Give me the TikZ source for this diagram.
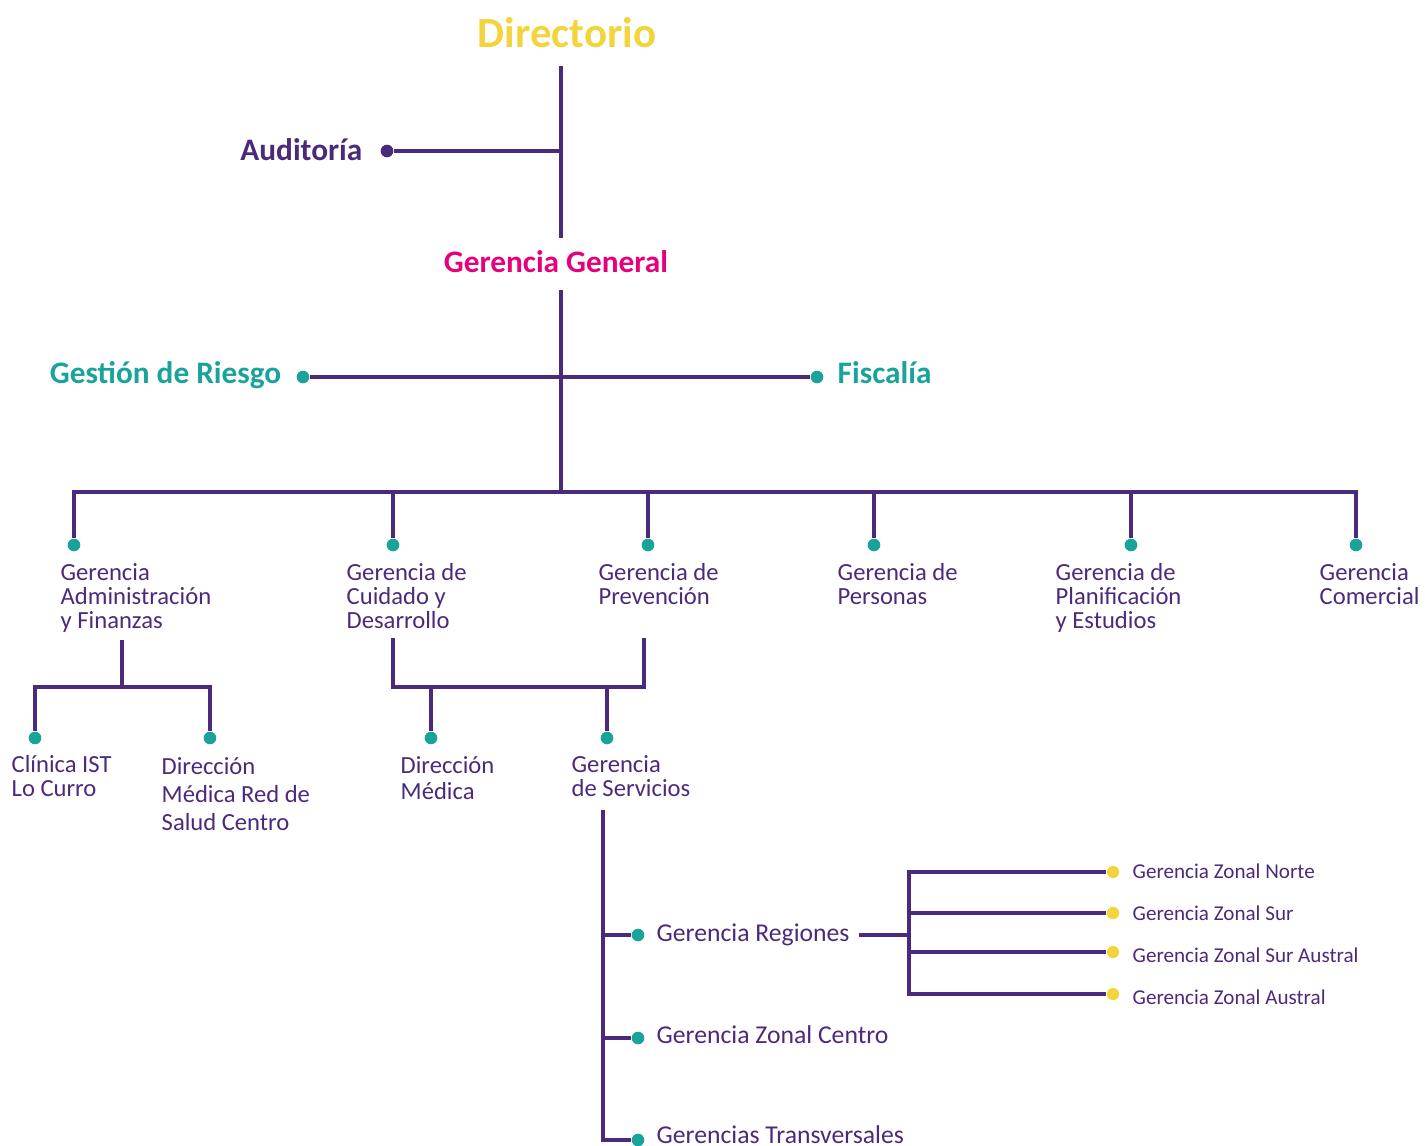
\documentclass[tikz,border=0pt]{standalone}
\usepackage{fontspec}
\setmainfont{Carlito}
\usepackage{tikz}
\definecolor{orgpurple}{HTML}{4B2A7B}
\definecolor{orgteal}{HTML}{1AA39A}
\definecolor{orgyellow}{HTML}{F2D43D}
\definecolor{orgmagenta}{HTML}{E5007D}

\begin{document}
\begin{tikzpicture}[x=0.01cm, y=-0.01cm, every node/.style={inner sep=0pt},
  link/.style={draw=orgpurple, line width=0.9pt},
  title/.style={font=\bfseries\fontsize{8.9}{10}\selectfont},
  unit/.style={font=\fontsize{7}{6.8}\selectfont, text=orgpurple, align=left, anchor=base west},
  zone/.style={font=\fontsize{6}{7}\selectfont, text=orgpurple, anchor=base west},
  tdot/.style={circle, fill=orgteal, minimum size=3.6pt},
  ydot/.style={circle, fill=orgyellow, minimum size=3.5pt},
  pdot/.style={circle, fill=orgpurple, minimum size=3.6pt}]
  \useasboundingbox (0,0) rectangle (1425,1145);

  \node[title, font=\bfseries\fontsize{12.2}{14}\selectfont, text=orgyellow, anchor=base] (dir) at (567,47) {Directorio};
  \node[title, text=orgmagenta, anchor=base] (gg) at (556,272) {Gerencia General};
  \node[title, text=orgpurple, anchor=base east] (aud) at (363,160) {Auditoría};
  \node[title, text=orgteal, anchor=base east] (riesgo) at (282,383) {Gestión de Riesgo};
  \node[title, text=orgteal, anchor=base west] (fisc) at (837,383) {Fiscalía};

  \coordinate (dirstem) at (561,66);
  \coordinate (ggtop) at (561,238);
  \coordinate (ggstem) at (561,290);
  \coordinate (bus) at (561,492);
  \node[pdot] (auddot) at (387,151) {};
  \node[tdot] (riesgodot) at (303,377) {};
  \node[tdot] (fiscdot) at (817,377) {};

  \draw[link] (dirstem) -- (ggtop);
  \draw[link] (auddot) -- (auddot -| dirstem);
  \draw[link] (ggstem) -- (bus);
  \draw[link] (riesgodot) -- (fiscdot);

  \node[tdot] (admdot) at (74,545) {};
  \node[tdot] (cuidot) at (393,545) {};
  \node[tdot] (prevdot) at (648,545) {};
  \node[tdot] (perdot) at (874,545) {};
  \node[tdot] (plandot) at (1131,545) {};
  \node[tdot] (comdot) at (1356,545) {};
  \draw[link] (admdot) |- (bus) -| (comdot);
  \foreach \d in {cuidot, prevdot, perdot, plandot}
    \draw[link] (\d) -- (\d |- bus);

  \node[unit] (adm) at (60,628) {Gerencia\\Administración\\y Finanzas};
  \node[unit] (cui) at (346,628) {Gerencia de\\Cuidado y\\Desarrollo};
  \node[unit] (prev) at (598,604) {Gerencia de\\Prevención};
  \node[unit] (per) at (837,604) {Gerencia de\\Personas};
  \node[unit] (plan) at (1055,628) {Gerencia de\\Planificación\\y Estudios};
  \node[unit] (com) at (1319,604) {Gerencia\\Comercial};

  \coordinate (admstem) at (122,640);
  \coordinate (admbar) at (122,687);
  \node[tdot] (clidot) at (35,738) {};
  \node[tdot] (reddot) at (210,738) {};
  \draw[link] (admstem) -- (admbar);
  \draw[link] (clidot) |- (admbar) -| (reddot);

  \coordinate (cuistem) at (393,638);
  \coordinate (prevstem) at (644,638);
  \coordinate (cuibar) at (431,687);
  \coordinate (serbar) at (607,687);
  \node[tdot] (meddot) at (431,738) {};
  \node[tdot] (serdot) at (607,738) {};
  \draw[link] (cuistem) |- (644,687) -- (prevstem);
  \draw[link] (meddot) -- (cuibar);
  \draw[link] (serdot) -- (serbar);

  \node[unit] (cli) at (11,796) {Clínica IST\\Lo Curro};
  \node[unit, font=\fontsize{7}{7.9}\selectfont] (red) at (161,830) {Dirección\\Médica Red de\\Salud Centro};
  \node[unit, font=\fontsize{7}{7.3}\selectfont] (med) at (400,799) {Dirección\\Médica};
  \node[unit] (ser) at (571,796) {Gerencia\\de Servicios};

  \coordinate (serstem) at (603,810);
  \node[tdot] (regdot) at (638,935) {};
  \node[tdot] (cendot) at (638,1038) {};
  \node[tdot] (trandot) at (638,1140) {};
  \draw[link] (serstem) |- (trandot);
  \draw[link] (regdot) -- (regdot -| serstem);
  \draw[link] (cendot) -- (cendot -| serstem);

  \node[unit, font=\fontsize{7.3}{8}\selectfont] (reg) at (656,941) {Gerencia Regiones};
  \node[unit, font=\fontsize{7.3}{8}\selectfont] (cen) at (656,1043) {Gerencia Zonal Centro};
  \node[unit, font=\fontsize{7.3}{8}\selectfont] (tran) at (656,1143) {Gerencias Transversales};

  \coordinate (regout) at (859,935);
  \coordinate (regbar) at (909,935);
  \node[ydot] (nortedot) at (1113,872) {};
  \node[ydot] (surdot) at (1113,913) {};
  \node[ydot] (sausdot) at (1113,952) {};
  \node[ydot] (ausdot) at (1113,994) {};
  \draw[link] (regout) -- (regbar);
  \draw[link] (nortedot) -| (909,994) -- (ausdot);
  \draw[link] (surdot) -- (surdot -| regbar);
  \draw[link] (sausdot) -- (sausdot -| regbar);

  \node[zone] (norte) at (1132,878) {Gerencia Zonal Norte};
  \node[zone] (sur) at (1132,920) {Gerencia Zonal Sur};
  \node[zone] (saus) at (1132,962) {Gerencia Zonal Sur Austral};
  \node[zone] (aus) at (1132,1004) {Gerencia Zonal Austral};
\end{tikzpicture}
\end{document}
